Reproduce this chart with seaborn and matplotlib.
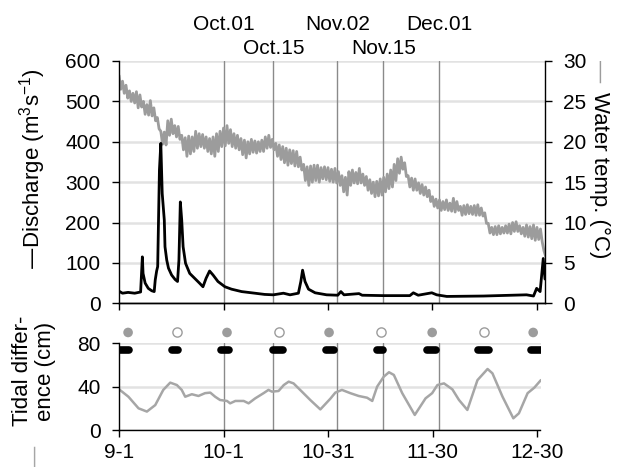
import matplotlib
matplotlib.use('Agg')
import matplotlib.pyplot as plt
import matplotlib.transforms as mtransforms
import seaborn as sns

# days counted from Sep 1
disch_day = [0, 1.0, 2.6, 4.5, 6.2, 6.7, 6.9, 7.5, 8.4, 9.4, 10.1, 10.4, 10.8, 11.1, 11.6,
             12.0, 12.4, 13.0, 13.2, 13.7, 14.2, 15.1, 16.1, 16.8, 17.2, 17.6, 18.0, 18.4,
             19.1, 20.3, 21.7, 23.1, 24.1, 25.0, 26.0, 27.0, 28.4, 30.4, 32.3, 35.2, 39.0,
             41.8, 44.3, 47.2, 49.1, 51.5, 52.2, 52.7, 53.4, 54.4, 56.3, 59.6, 62.8, 63.7,
             64.6, 68.9, 69.8, 75.9, 83.5, 84.5, 85.9, 89.8, 91.2, 94.1, 104.6, 117.0,
             119.0, 119.9, 120.9, 121.8, 122.3]
disch = [30, 25, 27, 25, 28, 115, 74, 50, 37, 31, 29, 58, 80, 91, 330,
         396, 272, 206, 140, 107, 87, 70, 59, 54, 107, 251, 206, 140,
         99, 74, 62, 50, 41, 62, 80, 70, 54, 41, 35, 29, 25,
         22, 21, 25, 21, 25, 54, 82, 54, 35, 26, 21, 20, 29,
         21, 24, 20, 19, 19, 26, 20, 26, 21, 17, 18, 21,
         18, 37, 29, 111, 60]

# daily upper / lower envelope of water temperature (diurnal swing)
temp_hi = [28.2, 27.5, 27.0, 26.3, 26.0, 26.2, 25.8, 25.0, 24.6, 25.1,
           24.2, 23.0, 21.3, 21.2, 22.6, 22.8, 22.0, 21.9, 20.8, 20.5,
           20.7, 20.6, 21.3, 21.0, 20.9, 20.6, 20.4, 20.6, 21.0, 21.3,
           21.7, 22.0, 21.5, 21.0, 20.8, 20.4, 20.2, 20.0, 20.3, 20.1,
           20.0, 20.2, 20.6, 20.8, 20.3, 19.8, 19.6, 19.4, 19.2, 19.0,
           18.9, 18.8, 18.1, 17.2, 16.9, 17.0, 17.1, 17.1, 16.8, 16.9,
           16.8, 16.6, 16.7, 16.3, 15.8, 15.6, 16.3, 16.5, 16.2, 16.7,
           16.0, 15.7, 15.3, 15.0, 15.1, 15.4, 15.6, 16.0, 16.5, 17.2,
           17.9, 18.1, 17.4, 15.8, 15.5, 15.4, 14.9, 14.7, 14.4, 14.0,
           13.2, 12.9, 12.8, 12.6, 12.8, 12.4, 13.0, 12.6, 12.0, 12.1,
           12.2, 12.0, 12.1, 12.2, 11.8, 11.2, 9.9, 9.4, 9.5, 9.6,
           9.4, 9.6, 9.8, 10.0, 10.1, 9.6, 9.4, 9.7, 9.5, 9.7,
           9.4, 9.2, 6.5]
temp_lo = [26.5, 26.0, 25.4, 25.0, 24.8, 24.2, 24.3, 23.4, 23.3, 23.2,
           22.6, 21.6, 19.7, 19.6, 20.8, 21.0, 20.6, 20.3, 19.0, 18.2,
           18.5, 18.8, 19.2, 19.4, 19.2, 18.8, 18.5, 18.2, 18.8, 19.4,
           19.5, 19.8, 19.4, 19.2, 19.0, 18.4, 18.0, 18.5, 18.7, 18.6,
           18.8, 18.8, 19.2, 19.3, 19.0, 18.2, 17.8, 17.4, 17.1, 17.3,
           17.0, 16.9, 16.5, 15.2, 14.6, 15.0, 15.2, 15.0, 15.4, 15.3,
           15.1, 15.0, 14.9, 14.6, 13.8, 13.4, 14.6, 14.9, 14.8, 14.9,
           14.6, 14.0, 13.6, 13.2, 13.3, 13.4, 13.8, 14.2, 14.4, 15.2,
           16.1, 16.6, 15.7, 14.4, 14.0, 14.0, 13.6, 13.4, 13.2, 12.6,
           12.0, 11.8, 11.5, 11.6, 11.5, 11.4, 11.3, 11.5, 10.9, 11.0,
           11.1, 11.0, 10.9, 10.9, 10.8, 9.9, 8.7, 8.5, 8.5, 8.6,
           8.7, 8.7, 8.6, 8.9, 8.9, 8.6, 8.3, 8.2, 8.0, 7.8,
           7.9, 7.6, 5.8]

tide_day = [0, 2.7, 5.6, 8.0, 10.4, 12.7, 14.7, 16.6, 18.0, 19.0, 20.9, 22.8, 24.7, 26.2,
            27.6, 29.0, 31.0, 31.9, 33.4, 35.8, 37.2, 39.1, 41.5, 42.9, 43.9, 45.8, 47.3,
            48.7, 50.1, 52.5, 54.9, 57.8, 60.7, 62.1, 64.0, 66.4, 68.8, 71.2, 72.7, 74.1,
            76.0, 77.5, 78.9, 81.3, 84.9, 88.0, 89.9, 91.4, 93.3, 95.7, 97.6, 100.0, 102.9,
            105.8, 107.2, 110.1, 113.2, 114.8, 117.3, 119.2, 121.1]
tide = [37.6, 30.7, 20, 17, 23, 37, 43.7, 41.5, 37, 30.7, 33, 31.4, 34, 34.5,
        30.7, 27.7, 26.8, 24.6, 26.8, 26.8, 24.6, 29.2, 34, 37, 35.4, 36, 41.5,
        44.6, 43, 35.4, 27.7, 19, 29, 34.5, 37, 34, 31.4, 29.8, 26.8, 40,
        49.2, 53.3, 50.8, 34, 13.9, 29.2, 34, 41.5, 43, 37.5, 27.7, 18.5, 46,
        56.3, 52.3, 30.7, 10.8, 15.4, 34, 39, 46]

# spring tide periods and moon phases
spring_start = [-1.0, 15.1, 29.2, 44.1, 59.3, 74.0, 88.3, 103.2, 118.2]
spring_end = [2.9, 17.0, 31.7, 47.2, 61.8, 75.9, 91.1, 106.3, 123.0]
moon_day = [2.6, 16.7, 31.0, 45.9, 60.3, 75.2, 89.9, 104.8, 118.9]
moon_full = [True, False, True, False, True, False, True, False, True]

event_day = [30.1, 44.3, 62.7, 75.9, 92.0]
event_label = ['Oct.01', 'Oct.15', 'Nov.02', 'Nov.15', 'Dec.01']
event_row = [0, 1, 0, 1, 0]

tick_day = [0, 30, 60, 90, 120]
tick_label = ['9-1', '10-1', '10-31', '11-30', '12-30']

sns.set_style('ticks')
plt.rcParams['font.family'] = ['Liberation Sans', 'DejaVu Sans']
plt.rcParams['mathtext.default'] = 'regular'
plt.rcParams['text.color'] = 'black'

W, H = 625, 467
fs = 15
fl = 16
grid_c = '#e2e2e2'
ev_c = '#8a8a8a'
temp_c = '#9c9c9c'
tide_c = '#a6a6a6'

fig = plt.figure(figsize=(W / 100, H / 100), dpi=100)
ax = fig.add_axes([118.5 / W, (H - 303.3) / H, (545 - 118.5) / W, (303.3 - 61) / H])
ax2 = ax.twinx()
ax.set_zorder(ax2.get_zorder() + 1)
ax.patch.set_visible(False)

# water temperature (right axis, drawn underneath)
t_day, t_val = [], []
for i in range(len(temp_hi)):
    t_day += [i, i + 0.5]
    t_val += [temp_hi[i], temp_lo[i]]
for d in event_day:
    ax2.axvline(d, color=ev_c, lw=1, zorder=1)
ax2.yaxis.grid(True, color=grid_c, lw=1.8, zorder=0)
sns.lineplot(x=t_day, y=t_val, ax=ax2, color=temp_c, lw=2.0, estimator=None, legend=False)
ax2.set_ylim(0, 30)
ax2.set_yticks(range(0, 31, 5))
ax2.set_ylabel('')

# discharge (left axis)
sns.lineplot(x=disch_day, y=disch, ax=ax, color='black', lw=2.0, estimator=None, legend=False)
ax.set_ylim(0, 600)
ax.set_yticks(range(0, 601, 100))
ax.set_xlim(-0.15, 122.3)
ax.set_xticks(tick_day)
ax.set_xticklabels([])
ax.set_ylabel('')

for a in (ax, ax2):
    a.spines['top'].set_visible(False)
    for s in a.spines.values():
        s.set_linewidth(1)
        s.set_color('black')
    a.tick_params(direction='out', length=5, width=1, pad=8, labelsize=fs, colors='black')
ax.spines['right'].set_visible(False)
ax2.spines['left'].set_visible(False)
ax.tick_params(axis='x', pad=4)

trans = mtransforms.blended_transform_factory(ax.transData, fig.transFigure)
for d, lab, r in zip(event_day, event_label, event_row):
    ax.text(d, 1 - (30 if r == 0 else 54) / H, lab, transform=trans, ha='center',
            va='baseline', fontsize=fs)

# tidal difference panel
ax3 = fig.add_axes([118.5 / W, (H - 430) / H, (540.5 - 118.5) / W, (430 - 343.3) / H])
for d in event_day:
    ax3.axvline(d, color=ev_c, lw=1, zorder=1)
ax3.yaxis.grid(True, color=grid_c, lw=1.8, zorder=0)
sns.lineplot(x=tide_day, y=tide, ax=ax3, color=tide_c, lw=1.8, estimator=None, legend=False)
for s0, s1 in zip(spring_start, spring_end):
    ax3.plot([s0, s1], [74, 74], color='black', lw=5.5, solid_capstyle='round', zorder=3)
full_d = [d for d, f in zip(moon_day, moon_full) if f]
new_d = [d for d, f in zip(moon_day, moon_full) if not f]
ax3.scatter(full_d, [90] * len(full_d), s=48, color=temp_c, edgecolor='none', clip_on=False, zorder=4)
ax3.scatter(new_d, [90] * len(new_d), s=44, facecolor='white', edgecolor=temp_c, lw=1,
            clip_on=False, zorder=4)
ax3.set_ylim(0, 80)
ax3.set_yticks([0, 40, 80])
ax3.set_xlim(-0.15, 121.0)
ax3.set_xticks(tick_day)
ax3.set_xticklabels(tick_label)
ax3.set_ylabel('')
sns.despine(ax=ax3)
for s in ax3.spines.values():
    s.set_linewidth(1)
    s.set_color('black')
ax3.tick_params(direction='out', length=5, width=1, pad=8, labelsize=fs, colors='black')
ax3.tick_params(axis='x', pad=4)

# axis titles
fig.text(33 / W, 1 - 169 / H, '—Discharge (m$^3$s$^{-1}$)', rotation=90, ha='center',
         va='center', fontsize=fl)
fig.text(34 / W, 1 - 371 / H, 'Tidal differ-\nence (cm)', rotation=90, ha='center',
         va='center', fontsize=fl, linespacing=1.15, multialignment='center')
fig.text(35 / W, 1 - 457 / H, '—', rotation=90, ha='center', va='center', fontsize=fl,
         color=tide_c)
fig.text(600 / W, 1 - 60 / H, '—', rotation=-90, ha='center', va='top', fontsize=fl,
         color=temp_c)
fig.text(600 / W, 1 - 92 / H, 'Water temp. (°C)', rotation=-90, ha='center', va='top',
         fontsize=fl)

fig.savefig('out.png', dpi=100)
